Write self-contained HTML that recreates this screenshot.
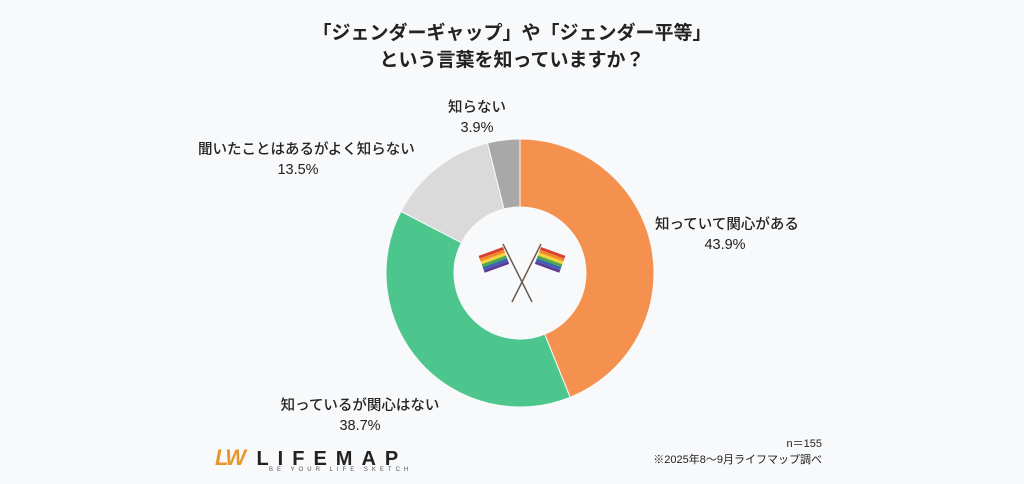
<!DOCTYPE html>
<html><head><meta charset="utf-8">
<style>
html,body{margin:0;padding:0;}
body{width:1024px;height:484px;background:#f8f9fb;font-family:"Liberation Sans","Noto Sans CJK JP",sans-serif;position:relative;overflow:hidden;color:#222;}
.t{position:absolute;white-space:nowrap;}
.title{left:0;width:1024px;text-align:center;font-size:19px;font-weight:bold;line-height:27px;top:20px;}
.lbl{font-size:14.5px;line-height:20px;text-align:center;font-weight:500;}
</style></head><body>
<div class="t title">「ジェンダーギャップ」や「ジェンダー平等」<br>という言葉を知っていますか？</div>
<svg id="chart" width="1024" height="484" style="position:absolute;left:0;top:0"></svg>
<div class="t lbl" style="left:442px;top:98px;width:70px">知らない<br>3.9%</div>
<div class="t lbl" style="left:198px;top:140px;width:200px">聞いたことはあるがよく知らない<br>13.5%</div>
<div class="t lbl" style="left:655px;top:215px;width:140px">知っていて関心がある<br>43.9%</div>
<div class="t lbl" style="left:280px;top:396px;width:160px">知っているが関心はない<br>38.7%</div>
<div class="t" style="left:215px;top:445px">
<span style="color:#e8962e;font-weight:bold;font-size:22px;font-style:italic;letter-spacing:-2px">LW</span>
<span style="font-weight:bold;font-size:20px;letter-spacing:9px;margin-left:8px">LIFEMAP</span>
<div style="font-size:6px;letter-spacing:4px;margin-left:54px;margin-top:-4px;color:#555">BE YOUR LIFE SKETCH</div></div>
<div class="t" style="right:202px;top:436px;font-size:11px;text-align:right;line-height:16px">n＝155<br>※2025年8～9月ライフマップ調べ</div>
<script>
const categories=["知っていて関心がある","知っているが関心はない","聞いたことはあるがよく知らない","知らない"];
const values=[43.9,38.7,13.5,3.9];
const colors=["#f5914f","#4cc68d","#dadada","#a8a8a8"];
const svg=document.getElementById('chart');
const NS="http://www.w3.org/2000/svg";
const cx=520,cy=273,R=134,r=66;
const total=values.reduce((a,b)=>a+b,0);
let a0=0;
function pt(a,rad){return [cx+rad*Math.sin(a),cy-rad*Math.cos(a)];}
values.forEach((v,i)=>{
 const a1=a0+v/total*2*Math.PI;
 const large=(a1-a0)>Math.PI?1:0;
 const p1=pt(a0,R),p2=pt(a1,R),p3=pt(a1,r),p4=pt(a0,r);
 const p=document.createElementNS(NS,'path');
 p.setAttribute('d',`M${p1}A${R},${R} 0 ${large} 1 ${p2}L${p3}A${r},${r} 0 ${large} 0 ${p4}Z`);
 p.setAttribute('fill',colors[i]);
 p.setAttribute('stroke','#f8f9fb');p.setAttribute('stroke-width','1');
 
 
 svg.appendChild(p);
 a0=a1;
});
const g=document.createElementNS(NS,'g');


const stripes=['#d9412f','#f08a2c','#f3d23a','#4aa84a','#3b62b5','#5b3b96'];
let s='<line x1="503" y1="244" x2="532" y2="302" stroke="#6b5a4e" stroke-width="1.5"/><line x1="541" y1="244" x2="512" y2="302" stroke="#6b5a4e" stroke-width="1.5"/>';
s+='<g transform="translate(503,247) rotate(-20)">'+stripes.map((c,k)=>`<rect x="-26" y="${k*3}" width="26" height="3" fill="${c}"/>`).join('')+'</g>';
s+='<g transform="translate(541,247) rotate(20)">'+stripes.map((c,k)=>`<rect x="0" y="${k*3}" width="26" height="3" fill="${c}"/>`).join('')+'</g>';
g.innerHTML=s;
svg.appendChild(g);
</script>
</body></html>
